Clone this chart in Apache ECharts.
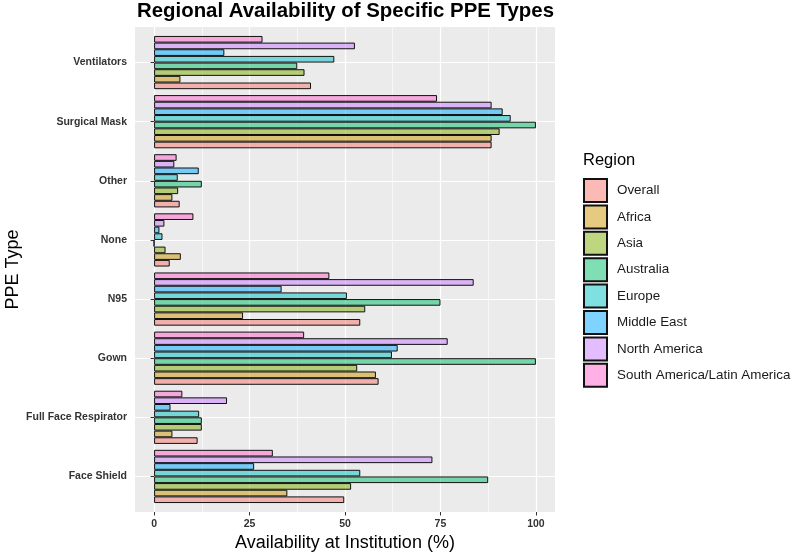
<!DOCTYPE html>
<html>
<head>
<meta charset="utf-8">
<script src="https://cdn.jsdelivr.net/npm/echarts@6/dist/echarts.min.js"></script>
<style>html,body{margin:0;padding:0;background:#fff;}#c{width:795px;height:558px;}</style>
</head>
<body>
<div id="c"></div>
<script>
// Categories (bottom to top)
const ppeTypes = ['Face Shield', 'Full Face Respirator', 'Gown', 'N95', 'None', 'Other', 'Surgical Mask', 'Ventilators'];
const regions = ['Overall', 'Africa', 'Asia', 'Australia', 'Europe', 'Middle East', 'North America', 'South America/Latin America'];
const xTicks = [0, 25, 50, 75, 100];

// Values (%) per region, in ppeTypes order
const overall      = [49.8, 11.4, 58.8, 54.0, 4.1, 6.7, 88.4, 41.1];
const africa       = [34.9, 4.8, 58.1, 23.3, 7.0, 4.8, 88.4, 6.9];
const asia         = [51.6, 12.5, 53.2, 55.3, 3.0, 6.3, 90.5, 39.4];
const australia    = [87.5, 12.5, 100, 75.0, 0, 12.5, 100, 37.5];
const europe       = [54.0, 11.8, 62.3, 50.5, 2.2, 6.2, 93.4, 47.2];
const middleEast   = [26.2, 4.3, 63.8, 33.4, 1.4, 11.7, 91.3, 18.4];
const northAmerica = [72.9, 19.1, 76.9, 83.7, 2.7, 5.3, 88.4, 52.6];
const southAmerica = [31.1, 7.4, 39.3, 45.9, 10.3, 5.9, 74.1, 28.4];

const regionValues = [overall, africa, asia, australia, europe, middleEast, northAmerica, southAmerica];
const regionColors = ['rgba(248,118,109,0.5)', 'rgba(205,150,0,0.5)', 'rgba(124,174,0,0.5)', 'rgba(0,190,103,0.5)',
                      'rgba(0,191,196,0.5)', 'rgba(0,169,255,0.5)', 'rgba(199,124,255,0.5)', 'rgba(255,97,204,0.5)'];

const FONT = 'Liberation Sans, Arial, sans-serif';

// series listed top-of-group first so Overall ends up at the bottom of each group
const series = [];
for (let i = regions.length - 1; i >= 0; i--) {
  series.push({
    name: regions[i],
    type: 'bar',
    xAxisIndex: 3,
    yAxisIndex: 3,
    data: regionValues[i],
    barGap: '0%',
    barCategoryGap: '10%',
    itemStyle: { color: regionColors[i], borderColor: '#111', borderWidth: 1 },
    emphasis: { disabled: true },
    z: 3
  });
}

const gridBase = { outerBoundsMode: 'none', containLabel: false };

const chart = echarts.init(document.getElementById('c'), null, { renderer: 'canvas' });
chart.setOption({
  animation: false,
  textStyle: { fontFamily: FONT },
  title: [
    { text: 'Regional Availability of Specific PPE Types', left: 137, top: 1.5, padding: 0,
      textStyle: { fontFamily: FONT, fontSize: 20.4, fontWeight: 'bold', color: '#000' } },
    { text: 'Region', left: 583, top: 152, padding: 0,
      textStyle: { fontFamily: FONT, fontSize: 16.5, fontWeight: 'normal', color: '#000' } }
  ],
  legend: {
    data: regions,
    orient: 'vertical',
    left: 583,
    top: 178,
    padding: 0,
    itemWidth: 23,
    itemHeight: 23,
    itemGap: 1.4,
    icon: 'rect',
    selectedMode: false,
    textStyle: { fontFamily: FONT, fontSize: 13.4, color: '#1a1a1a', padding: [0, 0, 0, 5] }
  },
  grid: [
    // panel background
    Object.assign({ left: 135, right: 240, top: 27, bottom: 46, show: true, backgroundColor: '#EBEBEB', borderWidth: 0 }, gridBase),
    // vertical gridlines 0..100
    Object.assign({ left: 154.1, right: 259.1, top: 27, bottom: 46 }, gridBase),
    // horizontal gridlines at category centres
    Object.assign({ left: 135, right: 240, top: 62.5, bottom: 81.5 }, gridBase),
    // bars
    Object.assign({ left: 135, right: 240, top: 33, bottom: 52 }, gridBase)
  ],
  xAxis: [
    { gridIndex: 0, type: 'value', min: -5, max: 105, show: false },
    { gridIndex: 1, type: 'value', min: xTicks[0], max: xTicks[xTicks.length - 1], interval: 25,
      axisLine: { show: false },
      axisTick: { show: true, length: 3.5, lineStyle: { color: '#333', width: 1 } },
      axisLabel: { margin: 7, fontFamily: FONT, fontSize: 10.5, fontWeight: 'bold', color: '#333' },
      splitLine: { show: true, lineStyle: { color: '#fff', width: 1.2 } },
      minorTick: { show: false, splitNumber: 2 },
      minorSplitLine: { show: true, lineStyle: { color: '#fff', width: 0.6 } },
      name: 'Availability at Institution (%)', nameLocation: 'middle', nameGap: 22, nameMoveOverlap: false,
      nameTextStyle: { fontFamily: FONT, fontSize: 18, color: '#000' } },
    { gridIndex: 2, type: 'value', show: false, min: 0, max: 1 },
    { gridIndex: 3, type: 'value', min: -5, max: 105, show: false }
  ],
  yAxis: [
    { gridIndex: 0, type: 'value', show: false },
    { gridIndex: 1, type: 'value', show: false },
    { gridIndex: 2, type: 'value', min: 0, max: 7, interval: 1,
      axisLine: { show: false }, axisTick: { show: false }, axisLabel: { show: false },
      splitLine: { show: true, lineStyle: { color: '#fff', width: 1.2 } } },
    { gridIndex: 3, type: 'category', data: ppeTypes,
      axisLine: { show: false },
      axisTick: { show: true, alignWithLabel: true, length: 3.5, lineStyle: { color: '#333', width: 1 } },
      axisLabel: { margin: 8, fontFamily: FONT, fontSize: 10.5, fontWeight: 'bold', color: '#333' },
      splitLine: { show: false },
      name: 'PPE Type', nameLocation: 'middle', nameGap: 113, nameRotate: 90, nameMoveOverlap: false,
      nameTextStyle: { fontFamily: FONT, fontSize: 18, color: '#000' } }
  ],
  series: series
});
</script>
</body>
</html>
